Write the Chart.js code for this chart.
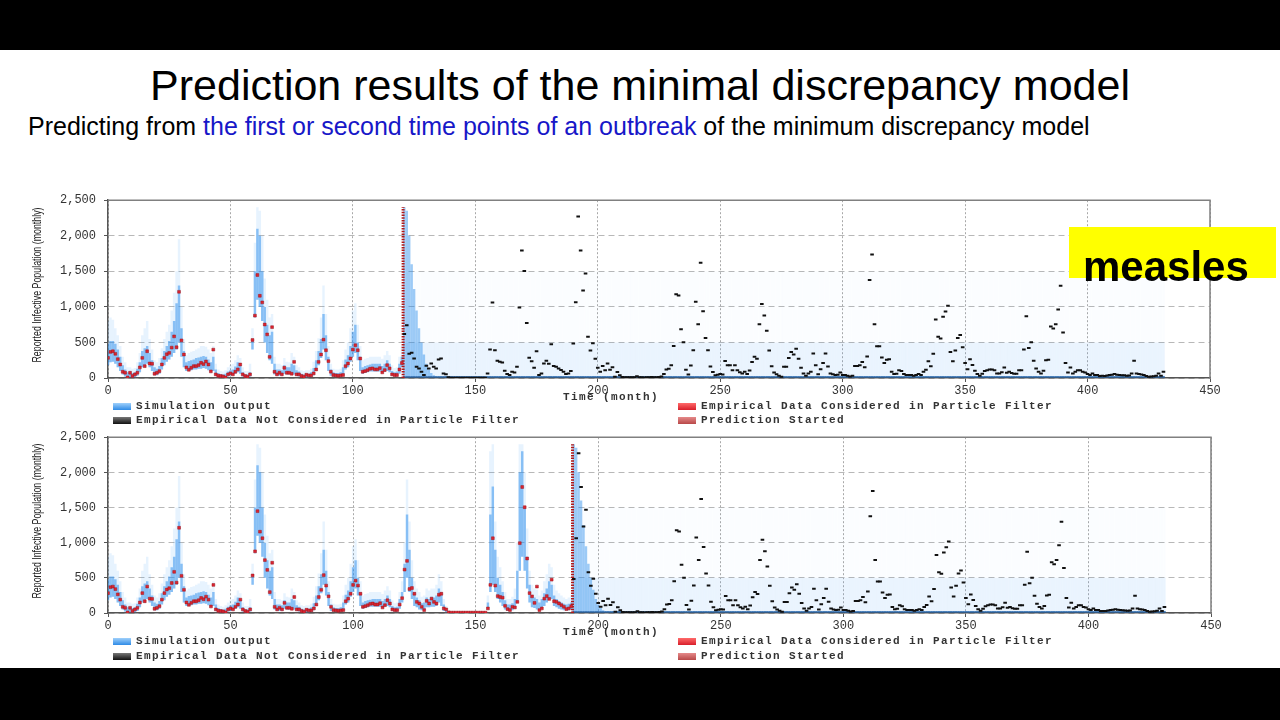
<!DOCTYPE html>
<html>
<head>
<meta charset="utf-8">
<script src="https://cdn.jsdelivr.net/npm/chart.js@4.4.1/dist/chart.umd.min.js"></script>
<style>
  html, body { margin: 0; padding: 0; background: #000; }
  #slide { position: relative; width: 1280px; height: 720px; background: #000; overflow: hidden; font-family: 'Liberation Sans', Arial, sans-serif; }
  #white { position: absolute; left: 0; top: 50px; width: 1280px; height: 618px; background: #fff; }
  #title { position: absolute; left: 0; top: 59px; width: 1280px; text-align: center; font-size: 43px; line-height: 52px; color: #000; }
  #subtitle { position: absolute; left: 28px; top: 111px; font-size: 25px; line-height: 30px; color: #000; white-space: nowrap; }
  #subtitle span { color: #1717c8; }
  canvas { position: absolute; left: 0; }
  #topChart { top: 185px; }
  #bottomChart { top: 422px; }
  .leg { position: absolute; font-family: 'Liberation Mono', monospace; font-size: 11px; font-weight: bold; letter-spacing: 1.4px; color: #333; white-space: nowrap; line-height: 12px; }
  .ytitle { position: absolute; left: 37px; font-family: 'Liberation Sans', Arial, sans-serif; font-size: 13px; line-height: 14px; color: #222; white-space: nowrap; }
  .sw { position: absolute; width: 18px; height: 7px; }
  .sim { background: linear-gradient(#9fd0fb, #2f8be6); }
  .emp { background: linear-gradient(#ff6a6a, #d81e2a); }
  .not { background: linear-gradient(#777, #111); }
  .pred { background: linear-gradient(#e58a8a, #b84848); }
  #tag { position: absolute; left: 1069px; top: 227px; width: 207px; height: 51px; background: #ffff00; }
  #tagText { position: absolute; left: 1083px; top: 246px; font-size: 42px; line-height: 42px; font-weight: bold; color: #000; }
</style>
</head>
<body>
<div id="slide">
  <div id="white"></div>
  <div id="title">Prediction results of the minimal discrepancy model</div>
  <div id="subtitle">Predicting from <span>the first or second time points of an outbreak</span> of the minimum discrepancy model</div>

  <canvas id="topChart" width="1280" height="213"></canvas>
  <canvas id="bottomChart" width="1280" height="211"></canvas>

  <div class="ytitle" style="top:285px;">Reported Infective Population (monthly)</div>
  <div class="ytitle" style="top:521px;">Reported Infective Population (monthly)</div>

  <div class="leg" style="left:563px; top:391px;">Time (month)</div>
  <div class="sw sim" style="left:113px; top:403px;"></div><div class="leg" style="left:136px; top:400px;">Simulation Output</div>
  <div class="sw emp" style="left:678px; top:403px;"></div><div class="leg" style="left:701px; top:400px;">Empirical Data Considered in Particle Filter</div>
  <div class="sw not" style="left:113px; top:417px;"></div><div class="leg" style="left:136px; top:414px;">Empirical Data Not Considered in Particle Filter</div>
  <div class="sw pred" style="left:678px; top:417px;"></div><div class="leg" style="left:701px; top:414px;">Prediction Started</div>

  <div class="leg" style="left:563px; top:626px;">Time (month)</div>
  <div class="sw sim" style="left:113px; top:638px;"></div><div class="leg" style="left:136px; top:635px;">Simulation Output</div>
  <div class="sw emp" style="left:678px; top:638px;"></div><div class="leg" style="left:701px; top:635px;">Empirical Data Considered in Particle Filter</div>
  <div class="sw not" style="left:113px; top:653px;"></div><div class="leg" style="left:136px; top:650px;">Empirical Data Not Considered in Particle Filter</div>
  <div class="sw pred" style="left:678px; top:653px;"></div><div class="leg" style="left:701px; top:650px;">Prediction Started</div>

  <div id="tag"></div>
  <div id="tagText">measles</div>
</div>

<script>
// reported measles cases per month, month 0..431
const cases = [
  283, 367, 376, 340, 265, 190, 88, 74, 9, 74,
  28, 51, 74, 149, 283, 167, 376, 204, 200, 60,
  74, 97, 190, 283, 334, 353, 427, 585, 432, 1212,
  529, 330, 149, 116, 144, 167, 167, 181, 214, 195,
  232, 190, 93, 399, 51, 32, 28, 23, 9, 51,
  65, 51, 88, 121, 190, 51, 28, 19, 51, 534,
  877, 1448, 1156, 1063, 752, 613, 297, 715, 88, 51,
  74, 51, 144, 74, 74, 60, 227, 51, 51, 28,
  19, 46, 37, 37, 65, 120, 227, 330, 539, 390,
  237, 88, 42, 37, 32, 37, 42, 167, 204, 274,
  399, 460, 390, 274, 88, 97, 111, 130, 135, 121,
  121, 139, 79, 111, 181, 135, 51, 42, 42, 120,
  211, 617, 741, 341, 355, 274, 158, 135, 88, 42,
  172, 135, 204, 158, 135, 260, 274, 65, 51, 10,
  5, 5, 5, 5, 5, 5, 5, 5, 5, 5,
  5, 5, 5, 5, 5, 65, 400, 1063, 390, 241,
  227, 218, 102, 56, 42, 88, 79, 158, 993, 1792,
  1504, 775, 283, 237, 144, 376, 42, 65, 204, 241,
  200, 474, 167, 158, 135, 111, 88, 56, 65, 97,
  484, 1064, 2270, 1792, 1230, 1470, 580, 387, 488, 272,
  143, 88, 170, 110, 203, 115, 152, 18, 83, 40,
  15, 10, 10, 12, 10, 10, 25, 10, 10, 8,
  10, 12, 15, 10, 12, 15, 20, 55, 120, 129,
  180, 451, 1178, 1160, 686, 502, 115, 50, 175, 391,
  1073, 755, 1620, 939, 562, 391, 161, 83, 40, 45,
  55, 50, 240, 180, 180, 110, 180, 110, 80, 65,
  88, 55, 105, 225, 299, 270, 755, 1040, 879, 663,
  387, 166, 78, 51, 32, 18, 157, 157, 281, 364,
  331, 410, 272, 143, 64, 32, 64, 87, 345, 180,
  51, 124, 212, 345, 161, 64, 51, 41, 46, 78,
  41, 41, 32, 20, 30, 170, 170, 180, 226, 152,
  304, 1377, 1736, 755, 447, 447, 290, 212, 258, 262,
  87, 55, 60, 110, 97, 55, 41, 41, 41, 32,
  41, 55, 41, 87, 115, 235, 166, 341, 824, 580,
  557, 861, 935, 1017, 364, 235, 387, 562, 603, 433,
  212, 124, 262, 184, 101, 55, 32, 60, 97, 110,
  120, 120, 110, 64, 64, 80, 147, 74, 87, 69,
  60, 60, 110, 110, 400, 870, 423, 502, 244, 133,
  87, 64, 101, 249, 258, 723, 695, 755, 962, 1298,
  640, 212, 78, 147, 64, 87, 110, 110, 87, 78,
  55, 41, 64, 41, 41, 28, 30, 28, 35, 41,
  45, 55, 45, 41, 38, 37, 32, 35, 64, 244,
  64, 55, 50, 41, 28, 18, 20, 25, 32, 64,
  30, 87
];

// simulation cloud while the filter is fed data (months 0..189)
const fitLow = [
  180, 220, 230, 200, 150, 100, 50, 20, 0, 10,
  5, 10, 30, 80, 150, 150, 200, 150, 100, 40,
  40, 60, 120, 180, 230, 260, 300, 350, 400, 500,
  300, 150, 100, 100, 110, 120, 120, 130, 130, 140,
  130, 110, 80, 100, 30, 10, 5, 5, 5, 20,
  30, 40, 60, 80, 60, 20, 5, 5, 20, 400,
  850, 1100, 1000, 800, 500, 350, 250, 200, 50, 30,
  30, 30, 60, 50, 50, 60, 50, 30, 20, 10,
  5, 10, 10, 15, 40, 100, 180, 280, 400, 250,
  100, 30, 20, 15, 15, 20, 40, 120, 150, 230,
  300, 350, 250, 100, 60, 70, 80, 90, 90, 90,
  90, 90, 70, 90, 100, 80, 30, 20, 20, 60,
  150, 300, 500, 300, 200, 100, 80, 50, 40, 40,
  80, 80, 90, 90, 100, 150, 100, 30, 10, 0,
  0, 0, 0, 0, 0, 0, 0, 0, 0, 0,
  0, 0, 0, 0, 0, 50, 300, 400, 300, 200,
  150, 100, 50, 30, 30, 40, 60, 150, 600, 800,
  600, 350, 150, 80, 70, 50, 40, 60, 100, 150,
  200, 200, 100, 80, 60, 50, 40, 40, 40, 50
];
const fitHigh = [
  480, 520, 520, 480, 400, 300, 180, 120, 80, 90,
  70, 80, 130, 220, 380, 420, 450, 350, 250, 150,
  130, 170, 280, 380, 450, 520, 650, 800, 1050, 1300,
  700, 380, 220, 240, 250, 260, 280, 290, 300, 310,
  300, 260, 220, 300, 120, 70, 50, 50, 60, 90,
  110, 120, 160, 220, 180, 80, 50, 50, 80, 550,
  1500, 2100, 2000, 1500, 1000, 750, 600, 650, 200, 120,
  120, 110, 180, 150, 150, 200, 180, 110, 90, 60,
  50, 60, 60, 80, 140, 250, 380, 550, 900, 600,
  300, 120, 80, 70, 70, 80, 150, 260, 320, 450,
  650, 750, 500, 300, 150, 170, 180, 190, 200, 200,
  200, 200, 170, 200, 250, 200, 100, 80, 90, 200,
  300, 700, 1400, 900, 500, 300, 220, 180, 140, 150,
  220, 200, 230, 220, 250, 350, 300, 120, 60, 0,
  0, 0, 0, 0, 0, 0, 0, 0, 0, 0,
  0, 0, 0, 0, 0, 150, 1400, 1800, 900, 500,
  400, 300, 180, 120, 120, 140, 200, 600, 2000, 2300,
  1500, 800, 400, 250, 220, 200, 150, 200, 280, 350,
  450, 400, 250, 200, 170, 150, 130, 120, 130, 150
];
const fitHaze = [
  800, 850, 820, 700, 600, 450, 300, 220, 150, 150,
  130, 140, 220, 350, 600, 700, 800, 550, 400, 250,
  220, 280, 420, 550, 650, 750, 950, 1200, 1500, 1950,
  1000, 550, 320, 350, 370, 380, 400, 420, 450, 450,
  440, 400, 350, 450, 200, 120, 100, 90, 110, 150,
  180, 200, 250, 320, 280, 150, 100, 100, 200, 700,
  1900, 2400, 2350, 2000, 1400, 1100, 850, 900, 300, 200,
  200, 180, 280, 230, 220, 350, 300, 180, 150, 110,
  100, 110, 110, 130, 230, 380, 560, 850, 1300, 900,
  450, 200, 130, 120, 120, 130, 250, 400, 500, 700,
  950, 1050, 750, 450, 250, 270, 280, 300, 300, 300,
  300, 300, 270, 320, 380, 320, 180, 140, 150, 300,
  450, 1000, 1900, 1300, 750, 450, 350, 300, 230, 250,
  350, 320, 350, 350, 400, 550, 450, 200, 100, 0,
  0, 0, 0, 0, 0, 0, 0, 0, 0, 0,
  0, 0, 0, 0, 0, 250, 2300, 2400, 1300, 800,
  650, 450, 300, 200, 200, 230, 350, 1000, 2400, 2400,
  2000, 1200, 600, 400, 350, 330, 250, 320, 450, 550,
  700, 650, 400, 320, 280, 250, 220, 200, 220, 250
];

// top of the dense cloud in the months right after the prediction starts
const predCore = [2400, 2350, 2000, 1600, 1250, 950, 700, 500, 330, 200, 120, 70, 40];
const predBase = 25;
const predFaintTop = 500;
const predHazeTop = 1500;

// first month not given to the particle filter
const topStart = 121;
const bottomStart = 190;
const lineTop = 2400;

const xMax = 450;
const xStep = 50;
const yMax = 2500;
const yStep = 500;

Chart.defaults.font.family = "'Liberation Mono', monospace";
Chart.defaults.color = '#333';

// squeeze the rotated axis titles to the length they have in the picture
document.querySelectorAll('.ytitle').forEach(el => {
  const w = el.getBoundingClientRect().width;
  el.style.transform = 'translate(-50%, -50%) rotate(-90deg) scaleX(' + (155 / w) + ')';
});

const frame = {
  id: 'frame',
  afterDatasetsDraw(chart) {
    const ctx = chart.ctx;
    const a = chart.chartArea;
    ctx.save();
    ctx.strokeStyle = '#808080';
    ctx.lineWidth = 1.5;
    ctx.beginPath();
    ctx.moveTo(a.left, a.top);
    ctx.lineTo(a.right, a.top);
    ctx.lineTo(a.right, a.bottom);
    ctx.stroke();
    ctx.restore();
  }
};

function bars(data, color, order) {
  return {
    type: 'bar',
    data: data,
    backgroundColor: color,
    borderWidth: 0,
    barPercentage: 1,
    categoryPercentage: 1,
    grouped: false,
    inflateAmount: 0,
    order: order
  };
}

function makeChart(id, start, padRight) {
  const haze = [], core = [], pHaze = [], pFaint = [], pCore = [], pBase = [];
  const red = [], black = [];
  for (let m = 0; m < cases.length; m++) {
    if (m < start) {
      haze.push({x: m, y: [fitLow[m], fitHaze[m]]});
      core.push({x: m, y: [fitLow[m], fitHigh[m]]});
      red.push({x: m, y: cases[m]});
    } else {
      const k = m - start;
      pHaze.push({x: m, y: [0, predHazeTop]});
      pFaint.push({x: m, y: [0, predFaintTop]});
      pCore.push({x: m, y: [0, k < predCore.length ? predCore[k] : predBase]});
      pBase.push({x: m, y: [0, predBase]});
      black.push({x: m, y: cases[m]});
    }
  }

  return new Chart(document.getElementById(id), {
    type: 'bar',
    data: {
      datasets: [
        {
          type: 'line', data: red, showLine: false, order: 0,
          pointStyle: 'rect', pointRadius: 2, pointBackgroundColor: '#dc2430',
          pointBorderColor: '#9a1820', pointBorderWidth: 0.5
        },
        {
          type: 'line', data: black, showLine: false, order: 0,
          pointStyle: 'line', pointRadius: 1.8, pointBorderColor: '#111', pointBorderWidth: 2
        },
        {
          type: 'line', order: 1,
          data: [{x: start - 0.5, y: 0}, {x: start - 0.5, y: lineTop}],
          borderColor: '#b01818', borderWidth: 3, borderDash: [1.5, 1.2], pointRadius: 0
        },
        bars(pBase, 'rgba(20,80,150,0.85)', 2),
        bars(pCore, 'rgba(40,140,235,0.45)', 3),
        bars(core, 'rgba(40,140,235,0.5)', 4),
        bars(pFaint, 'rgba(90,170,245,0.1)', 5),
        bars(pHaze, 'rgba(90,170,245,0.022)', 6),
        bars(haze, 'rgba(70,160,245,0.13)', 7)
      ]
    },
    options: {
      responsive: false,
      animation: false,
      devicePixelRatio: 1,
      layout: { padding: { left: 0, right: padRight, top: 12, bottom: 0 } },
      plugins: { legend: { display: false }, tooltip: { enabled: false } },
      scales: {
        x: {
          type: 'linear',
          min: 0,
          max: xMax,
          offset: false,
          afterFit(s) { s.height = 20; },
          ticks: { stepSize: xStep, padding: 2, font: { size: 12 }, color: '#333', maxRotation: 0 },
          grid: { offset: false, color: '#a8a8a8', lineWidth: 1, tickLength: 4, tickColor: '#555' },
          border: { color: '#555', width: 1.5, dash: [2, 2] }
        },
        y: {
          min: 0,
          max: yMax,
          afterFit(s) { s.width = 108; },
          ticks: { stepSize: yStep, padding: 8, font: { size: 12 }, color: '#333' },
          grid: { color: '#b8b8b8', lineWidth: 1, tickLength: 4, tickColor: '#555' },
          border: { color: '#555', width: 1.5, dash: [6, 4] }
        }
      }
    },
    plugins: [frame]
  });
}

makeChart('topChart', topStart, 70);
makeChart('bottomChart', bottomStart, 69);
</script>
</body>
</html>
